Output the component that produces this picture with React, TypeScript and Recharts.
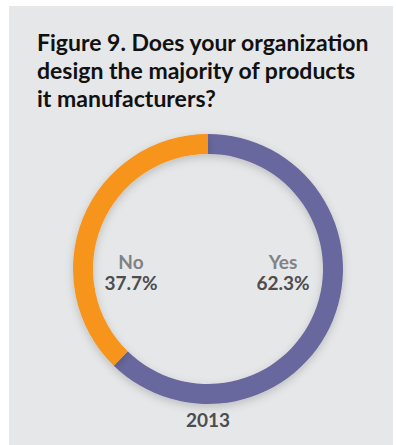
import React from 'react';
import { PieChart, Pie, Cell } from 'recharts';

const categories = ['Yes', 'No'];
const shares = [62.3, 37.7];
const sliceColors = ['#68689E', '#F7941D'];
const yearLabel = '2013';
const titleLines = ['Figure 9. Does your organization', 'design the majority of products', 'it manufacturers?'];

const data = categories.map((name, i) => ({ name, value: shares[i] }));

const FONT = 'Lato, "Open Sans", sans-serif';

const renderLabel = (props: any) => {
  const { cx, cy, midAngle, index } = props;
  const right = Math.cos((-midAngle * Math.PI) / 180) >= 0;
  const x = right ? cx + 75 : cx - 77;
  return (
    <g key={`lbl-${index}`}>
      <text x={x} y={cy} textAnchor="middle" fill="#808285" fontSize={19} fontWeight={700} fontFamily={FONT}>
        {data[index].name}
      </text>
      <text x={x} y={cy + 21} textAnchor="middle" fill="#4D4D4F" fontSize={19} fontWeight={700} fontFamily={FONT}>
        {data[index].value.toFixed(1)}%
      </text>
    </g>
  );
};

const App: React.FC = () => {
  return (
    <>
      <style>{'html,body{overflow:hidden;scrollbar-width:none;}::-webkit-scrollbar{display:none;}'}</style>
      <div
        style={{
          position: 'fixed',
          left: 9,
          top: 6,
          width: 384,
          height: 445,
          background: '#E6E7E8',
          fontFamily: FONT,
          overflow: 'hidden',
        }}
      >
        <div style={{ position: 'absolute', left: 28, top: 22, fontSize: 23, fontWeight: 700, lineHeight: '28px', color: '#111', whiteSpace: 'nowrap' }}>
          {titleLines.map((l) => (
            <div key={l}>{l}</div>
          ))}
        </div>
        <div style={{ position: 'absolute', left: 0, top: 120 }}>
          <PieChart width={384} height={300} margin={{ top: 0, right: 0, bottom: 0, left: 0 }}>
            <defs>
              <filter id="ringShadow" x="-20%" y="-20%" width="140%" height="140%">
                <feDropShadow dx="0" dy="3" stdDeviation="4" floodColor="#000" floodOpacity="0.18" />
              </filter>
            </defs>
            <Pie
              data={data}
              dataKey="value"
              cx={199}
              cy={143}
              innerRadius={115}
              outerRadius={135}
              startAngle={90}
              endAngle={-270}
              stroke="none"
              labelLine={false}
              label={renderLabel}
              isAnimationActive={false}
              style={{ filter: 'url(#ringShadow)' }}
            >
              {data.map((d, i) => (
                <Cell key={d.name} fill={sliceColors[i]} />
              ))}
            </Pie>
          </PieChart>
        </div>
        <div
          style={{
            position: 'absolute',
            left: 0,
            width: 398,
            top: 402,
            textAlign: 'center',
            fontSize: 19,
            fontWeight: 700,
            color: '#4D4D4F',
          }}
        >
          {yearLabel}
        </div>
      </div>
    </>
  );
};

export default App;
